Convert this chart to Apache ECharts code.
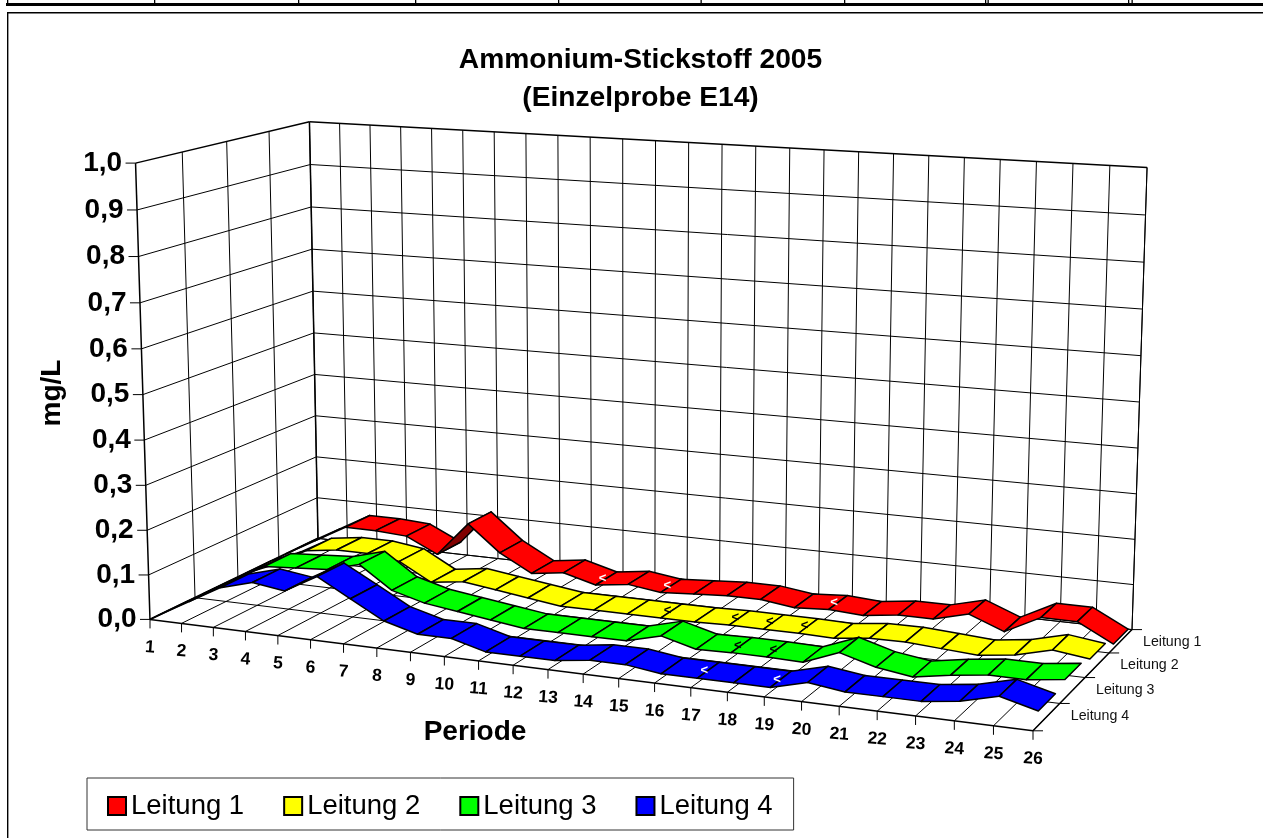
<!DOCTYPE html>
<html>
<head>
<meta charset="utf-8">
<style>html,body{margin:0;padding:0;background:#fff;overflow:hidden}#c{width:1263px;height:838px}</style>
<script src="https://cdn.jsdelivr.net/npm/echarts@6/dist/echarts.min.js"></script>
</head>
<body>
<div id="c"></div>
<script>
const periods = [1,2,3,4,5,6,7,8,9,10,11,12,13,14,15,16,17,18,19,20,21,22,23,24,25,26];
const valueTicks = [0,0.1,0.2,0.3,0.4,0.5,0.6,0.7,0.8,0.9,1.0];
const seriesNames = ['Leitung 1','Leitung 2','Leitung 3','Leitung 4'];
const leitung1 = [0,.04,.08,.08,.075,.04,.12,.06,.02,.03,.01,.02,.01,.015,.02,.02,.01,.015,.01,.02,.02,.04,.01,.05,.05,.01];
const leitung2 = [0,.03,.07,.08,.08,.07,.03,.04,.03,.02,.01,.01,.01,.01,.01,.012,.012,.012,.01,.019,.02,.015,.01,.02,.04,.03];
const leitung3 = [0,.04,.08,.085,.09,.11,.06,.04,.03,.02,.01,.01,.01,.01,.03,.01,.012,.012,.01,.04,.018,.007,.02,.03,.03,.04];
const leitung4 = [0,.04,.08,.1,.09,.13,.09,.05,.03,.03,.01,.01,.01,.02,.02,.01,.01,.01,.01,.03,.02,.02,.02,.03,.05,.03];
const below1 = [11,13,18];
const below2 = [14,16,17,18];
const below3 = [17,18];
const below4 = [17,19];
const colors = ['#ff0000','#ffff00','#00ff00','#0000ff'];
const darkColors = ['#800000','#808000','#008000','#000080'];
const labelColors = ['#fff','#000','#000','#fff'];

const FONT = '"Liberation Sans", Arial, sans-serif';
const FL=[150,619.4], FR=[1033,730.8], BR=[1132,629.6], BL=[318,538.4];
const tops=[{u:0,d:0,p:[135,162.7]},{u:0,d:1,p:[310,122.7]},{u:1,d:1,p:[1147,167]}];

function makeProjection(){
  const [x0,y0]=FL,[x1,y1]=FR,[x2,y2]=BR,[x3,y3]=BL;
  const dx1=x1-x2,dx2=x3-x2,sx=x0-x1+x2-x3,dy1=y1-y2,dy2=y3-y2,sy=y0-y1+y2-y3;
  const den=dx1*dy2-dx2*dy1;
  const g=(sx*dy2-dx2*sy)/den,h=(dx1*sy-sx*dy1)/den;
  const H=[x1-x0+g*x1,x3-x0+h*x3,x0,y1-y0+g*y1,y3-y0+h*y3,y0,g,h,1];
  const base=(u,d)=>[H[0]*u+H[1]*d+H[2],H[3]*u+H[4]*d+H[5],H[6]*u+H[7]*d+H[8]];
  const rows=[],rhs=[];
  tops.forEach(t=>{
    const b=base(t.u,t.d);
    rows.push([1,0,-t.p[0]]);rhs.push(t.p[0]*b[2]-b[0]);
    rows.push([0,1,-t.p[1]]);rhs.push(t.p[1]*b[2]-b[1]);
  });
  const A=[[0,0,0,0],[0,0,0,0],[0,0,0,0]];
  rows.forEach((r,k)=>{for(let i=0;i<3;i++){for(let j=0;j<3;j++)A[i][j]+=r[i]*r[j];A[i][3]+=r[i]*rhs[k];}});
  for(let i=0;i<3;i++){
    let m=i;for(let k=i+1;k<3;k++)if(Math.abs(A[k][i])>Math.abs(A[m][i]))m=k;
    [A[i],A[m]]=[A[m],A[i]];
    for(let k=0;k<3;k++){if(k===i)continue;const f=A[k][i]/A[i][i];for(let j=i;j<4;j++)A[k][j]-=f*A[i][j];}
  }
  const v=[A[0][3]/A[0][0],A[1][3]/A[1][1],A[2][3]/A[2][2]];
  return (u,d,w)=>{const b=base(u,d);const W=b[2]+w*v[2];return [(b[0]+w*v[0])/W,(b[1]+w*v[1])/W];};
}
const project=makeProjection();

// Normalised position of a (period,value) pair.
function norm(api,period,value){
  const a=api.coord([periods[0],valueTicks[0]]);
  const b=api.coord([periods[periods.length-1],valueTicks[valueTicks.length-1]]);
  const p=api.coord([period,value]);
  return [(p[0]-a[0])/(b[0]-a[0]),(p[1]-a[1])/(b[1]-a[1])];
}
const FRONT_GAP=0.18, BACK_GAP=0.82;

function ribbon(idx,values,below){
  const band=3-idx;
  const d0=(band+FRONT_GAP)/4, d1=(band+BACK_GAP)/4;
  return {
    type:'custom',name:seriesNames[idx],coordinateSystem:'cartesian2d',z:3+idx,silent:true,animation:false,
    itemStyle:{color:colors[idx],borderColor:'#000',borderWidth:1},
    data:values.map((v,i)=>[periods[i],v]),
    renderItem(params,api){
      const i=params.dataIndex, children=[];
      const [u,w]=norm(api,api.value(0),api.value(1));
      if(i<values.length-1){
        const [u2,w2]=norm(api,periods[i+1],values[i+1]);
        const pts=[project(u,d0,w),project(u2,d0,w2),project(u2,d1,w2),project(u,d1,w)];
        let area=0;
        pts.forEach((p,k)=>{const q=pts[(k+1)%4];area+=p[0]*q[1]-q[0]*p[1];});
        children.push({type:'polygon',z2:1,shape:{points:pts},
          style:{fill:area<0?colors[idx]:darkColors[idx],stroke:'#000',lineWidth:1.5,lineJoin:'round'}});
      }
      if(below.indexOf(api.value(0))>=0){
        const c=project(u,(d0+d1)/2,w);
        children.push({type:'text',z2:5,x:c[0]-4,y:c[1],
          style:{text:'<',fill:labelColors[idx],font:'bold 13px '+FONT,textAlign:'center',textVerticalAlign:'middle'}});
      }
      return {type:'group',children};
    }
  };
}

function frameSeries(){
  return {
    type:'custom',coordinateSystem:'cartesian2d',z:1,silent:true,animation:false,
    data:[[periods[0],valueTicks[0]]],
    renderItem(params,api){
      const ch=[];
      const line=(a,b,lw)=>ch.push({type:'line',shape:{x1:a[0],y1:a[1],x2:b[0],y2:b[1]},style:{stroke:'#000',lineWidth:lw||1}});
      const text=(p,t,font,align,rot,fill)=>ch.push({type:'text',x:p[0],y:p[1],rotation:rot||0,
        style:{text:t,font:font,fill:fill||'#000',textAlign:align,textVerticalAlign:'middle'}});
      const depths=[0,.25,.5,.75,1];
      periods.forEach(p=>{
        const u=norm(api,p,0)[0];
        line(project(u,1,0),project(u,1,1));
        line(project(u,0,0),project(u,1,0));
        const f=project(u,0,0);
        line(f,[f[0],f[1]+9]);
        text([f[0],f[1]+28],String(p),'bold 17.5px '+FONT,'center',-0.07);
      });
      depths.forEach(d=>{
        line(project(0,d,0),project(0,d,1),d===0||d===1?1.5:1);
        if(d>0&&d<1)line(project(0,d,0),project(1,d,0));
      });
      valueTicks.forEach(v=>{
        const w=norm(api,1,v)[1];
        const top=v===valueTicks[valueTicks.length-1];
        line(project(0,0,w),project(0,1,w),top?1.5:1);
        line(project(0,1,w),project(1,1,w),top?1.5:1);
        const f=project(0,0,w);
        line([f[0]-10,f[1]],f);
        text([f[0]-13.5,f[1]],v.toFixed(1).replace('.',','),'bold 28px '+FONT,'right');
      });
      line(project(1,1,0),project(1,1,1));
      line(project(0,0,0),project(1,0,0),1.5);
      line(project(0,0,0),project(0,1,0),2);
      line(project(1,0,0),project(1,1,0),1.5);
      line(project(0,1,0),project(1,1,0),1);
      depths.forEach(d=>{const p=project(1,d,0);line(p,[p[0]+10,p[1]]);});
      seriesNames.forEach((n,k)=>{
        const p=project(1,(4-k)/4,0);
        text([p[0]+11,p[1]+12.5],n,'14.2px '+FONT,'left',0,'#111');
      });
      return {type:'group',children:ch};
    }
  };
}

const chart=echarts.init(document.getElementById('c'),null,{renderer:'canvas'});
const rect=(x,y,w,h)=>({type:'rect',silent:true,shape:{x,y,width:w,height:h},style:{fill:'#000'}});
const stripX=[7,154,298,415,558,700.5,844,985,987.5,1128,1131.5];
chart.setOption({
  animation:false,
  backgroundColor:'#fff',
  title:{text:'Ammonium-Stickstoff 2005\n(Einzelprobe E14)',left:640.5,top:41,padding:0,textAlign:'center',
    textStyle:{fontFamily:FONT,fontSize:28.2,fontWeight:'bold',lineHeight:38,color:'#000'}},
  legend:{data:seriesNames,left:87,top:778,padding:[14,21,10,20],itemGap:39,itemWidth:18,itemHeight:18,
    icon:'rect',selectedMode:false,borderColor:'#333',borderWidth:1,backgroundColor:'#fff',
    textStyle:{fontFamily:FONT,fontSize:27.5,color:'#000'}},
  grid:{left:0,right:0,top:0,bottom:0},
  xAxis:{type:'value',min:1,max:26,show:false},
  yAxis:{type:'value',min:0,max:1,show:false},
  graphic:[
    rect(6,3,1257,3),
    rect(7,12,1256,1.4),
    rect(7,12,1.4,826),
    ...stripX.map(x=>rect(x,0,1.3,4)),
    {type:'text',silent:true,x:475,y:732,style:{text:'Periode',font:'bold 28px '+FONT,fill:'#000',textAlign:'center',textVerticalAlign:'middle'}},
    {type:'text',silent:true,x:52,y:393,rotation:Math.PI/2,style:{text:'mg/L',font:'bold 28px '+FONT,fill:'#000',textAlign:'center',textVerticalAlign:'middle'}}
  ],
  series:[frameSeries(),ribbon(0,leitung1,below1),ribbon(1,leitung2,below2),ribbon(2,leitung3,below3),ribbon(3,leitung4,below4)]
});
</script>
</body>
</html>
